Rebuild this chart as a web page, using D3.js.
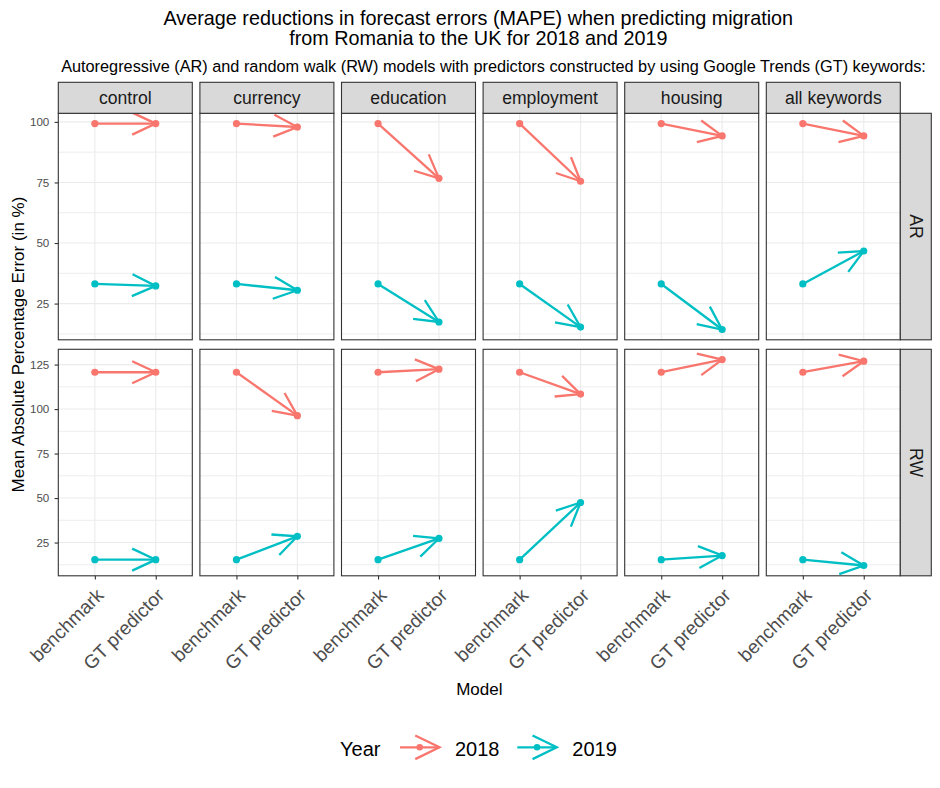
<!DOCTYPE html>
<html>
<head>
<meta charset="utf-8">
<script src="https://cdn.jsdelivr.net/npm/d3@7"></script>
<style>
  body { margin: 0; background: #fff; }
  text { font-family: "Liberation Sans", Arial, sans-serif; }
</style>
</head>
<body>
<div id="chart"></div>
<script>
// data
const keywords = ["control", "currency", "education", "employment", "housing", "all keywords"];
const models = ["AR", "RW"];
const years = ["2018", "2019"];
const xLabels = ["benchmark", "GT predictor"];

// benchmark MAPE (same in every panel of a row): [2018, 2019]
const benchmark_AR = [99.3, 33.1];
const benchmark_RW = [120.7, 15.4];

// GT predictor MAPE, one value per keyword
const gt_AR_2018 = [99.3, 97.9, 76.7, 75.5, 94.2, 94.2];
const gt_AR_2019 = [32.3, 30.5, 17.4, 15.3, 14.3, 46.7];
const gt_RW_2018 = [120.7, 96.3, 122.4, 108.4, 127.8, 126.9];
const gt_RW_2019 = [15.4, 28.5, 27.3, 47.5, 17.7, 12.1];

const yTicks_AR = [25, 50, 75, 100];
const yTicks_RW = [25, 50, 75, 100, 125];

const colors = { "2018": "#F8766D", "2019": "#00BFC4" };

// build rows
const data = [];
models.forEach(m => {
    const bench = m === "AR" ? benchmark_AR : benchmark_RW;
    const gt = m === "AR" ? [gt_AR_2018, gt_AR_2019] : [gt_RW_2018, gt_RW_2019];
    keywords.forEach((k, i) => {
        years.forEach((yr, j) => {
            data.push({ model: m, keyword: k, year: yr, benchmark: bench[j], gt: gt[j][i] });
        });
    });
});

const width = 940, height = 788;
const panelLeft = 58.3, panelW = 134, panelStep = 141.6;
const rowTop = { AR: 113.3, RW: 349.3 };
const panelH = 226.5;
const stripH = 31;

const svg = d3.select("#chart")
    .append("svg")
    .attr("width", width)
    .attr("height", height);

svg.append("rect").attr("width", width).attr("height", height).attr("fill", "#fff");

// x scale shared by every panel (discrete, ggplot-like expansion)
const x = d3.scalePoint()
    .domain(xLabels)
    .range([0, panelW])
    .padding(0.6);

function expand(vals) {
    const [a, b] = d3.extent(vals);
    const e = (b - a) * 0.05;
    return [a - e, b + e];
}

// y scale per row (free y)
const yScales = {};
models.forEach(m => {
    const rows = data.filter(d => d.model === m);
    yScales[m] = d3.scaleLinear()
        .domain(expand(rows.flatMap(d => [d.benchmark, d.gt])))
        .range([panelH, 0]);
});
const yTicks = { AR: yTicks_AR, RW: yTicks_RW };

function arrowHead(x1, y1, x2, y2, L = 26, deg = 25) {
    const a = Math.atan2(y2 - y1, x2 - x1);
    const t = deg * Math.PI / 180;
    return "M" + (x2 - L * Math.cos(a - t)) + "," + (y2 - L * Math.sin(a - t)) +
        "L" + x2 + "," + y2 +
        "L" + (x2 - L * Math.cos(a + t)) + "," + (y2 - L * Math.sin(a + t));
}

// titles
svg.append("text")
    .attr("x", 478.3).attr("y", 25)
    .attr("text-anchor", "middle")
    .style("font-size", "19.8px")
    .text("Average reductions in forecast errors (MAPE) when predicting migration");
svg.append("text")
    .attr("x", 478.3).attr("y", 45)
    .attr("text-anchor", "middle")
    .style("font-size", "19.8px")
    .text("from Romania to the UK for 2018 and 2019");
svg.append("text")
    .attr("x", 493.5).attr("y", 71.5)
    .attr("text-anchor", "middle")
    .style("font-size", "16.3px")
    .text("Autoregressive (AR) and random walk (RW) models with predictors constructed by using Google Trends (GT) keywords:");

// panels
models.forEach((m, r) => {
    const y = yScales[m];
    const [d0, d1] = y.domain();
    const major = yTicks[m];
    const minor = [];
    for (let v = major[0] - 12.5; v <= d1; v += 25) if (v >= d0) minor.push(v);

    keywords.forEach((k, c) => {
        const g = svg.append("g")
            .attr("transform", "translate(" + (panelLeft + c * panelStep) + "," + rowTop[m] + ")");

        // grid
        g.selectAll(".minor").data(minor).enter().append("line")
            .attr("x1", 0).attr("x2", panelW)
            .attr("y1", d => y(d)).attr("y2", d => y(d))
            .attr("stroke", "#EBEBEB").attr("stroke-width", 0.9);
        g.selectAll(".major").data(major).enter().append("line")
            .attr("x1", 0).attr("x2", panelW)
            .attr("y1", d => y(d)).attr("y2", d => y(d))
            .attr("stroke", "#EBEBEB").attr("stroke-width", 1.1);
        g.selectAll(".vmajor").data(xLabels).enter().append("line")
            .attr("x1", d => x(d)).attr("x2", d => x(d))
            .attr("y1", 0).attr("y2", panelH)
            .attr("stroke", "#EBEBEB").attr("stroke-width", 1.1);

        const rows = data.filter(d => d.model === m && d.keyword === k);

        // arrows
        rows.forEach(d => {
            const x1 = x("benchmark"), y1 = y(d.benchmark);
            const x2 = x("GT predictor"), y2 = y(d.gt);
            g.append("line")
                .attr("x1", x1).attr("y1", y1).attr("x2", x2).attr("y2", y2)
                .attr("stroke", colors[d.year]).attr("stroke-width", 2.3);
            g.append("path")
                .attr("d", arrowHead(x1, y1, x2, y2))
                .attr("fill", "none")
                .attr("stroke", colors[d.year]).attr("stroke-width", 2.3)
                .attr("stroke-linejoin", "miter");
        });

        // points
        rows.forEach(d => {
            g.append("circle").attr("cx", x("benchmark")).attr("cy", y(d.benchmark))
                .attr("r", 3.6).attr("fill", colors[d.year]);
            g.append("circle").attr("cx", x("GT predictor")).attr("cy", y(d.gt))
                .attr("r", 3.6).attr("fill", colors[d.year]);
        });

        // panel border
        g.append("rect")
            .attr("width", panelW).attr("height", panelH)
            .attr("fill", "none").attr("stroke", "#333333").attr("stroke-width", 1.1);

        // top strip
        if (r === 0) {
            g.append("rect")
                .attr("y", -stripH).attr("width", panelW).attr("height", stripH)
                .attr("fill", "#D9D9D9").attr("stroke", "#333333").attr("stroke-width", 1.1);
            g.append("text")
                .attr("x", panelW / 2).attr("y", -stripH / 2)
                .attr("dy", "0.35em")
                .attr("text-anchor", "middle")
                .attr("fill", "#1A1A1A")
                .style("font-size", "17.6px")
                .text(k);
        }

        // right strip
        if (c === keywords.length - 1) {
            g.append("rect")
                .attr("x", panelW).attr("width", stripH).attr("height", panelH)
                .attr("fill", "#D9D9D9").attr("stroke", "#333333").attr("stroke-width", 1.1);
            g.append("text")
                .attr("transform", "translate(" + (panelW + stripH / 2) + "," + (panelH / 2) + ") rotate(90)")
                .attr("dy", "0.35em")
                .attr("text-anchor", "middle")
                .attr("fill", "#1A1A1A")
                .style("font-size", "17.6px")
                .text(m);
        }

        // y axis
        if (c === 0) {
            const ax = g.append("g").call(d3.axisLeft(y).tickValues(major).tickSize(3.7).tickPadding(5.3));
            ax.select(".domain").remove();
            ax.selectAll("line").attr("stroke", "#333333").attr("stroke-width", 1.1);
            ax.selectAll("text")
                .attr("fill", "#4D4D4D")
                .style("font-size", "11.6px")
                .style("font-family", "'Liberation Sans', Arial, sans-serif");
        }

        // x axis
        if (r === models.length - 1) {
            const ax = g.append("g")
                .attr("transform", "translate(0," + panelH + ")")
                .call(d3.axisBottom(x).tickSize(3.7));
            ax.select(".domain").remove();
            ax.selectAll("line").attr("stroke", "#333333").attr("stroke-width", 1.1);
            ax.selectAll("text")
                .attr("x", 0).attr("y", 0).attr("dy", 0)
                .attr("text-anchor", "end")
                .attr("transform", "translate(9.3,20.7) rotate(-45)")
                .attr("fill", "#4D4D4D")
                .style("font-size", "19px")
                .style("font-family", "'Liberation Sans', Arial, sans-serif");
        }
    });
});

// axis titles
const panelsMid = panelLeft + (5 * panelStep + panelW) / 2;
svg.append("text")
    .attr("x", panelsMid).attr("y", 695)
    .attr("text-anchor", "middle")
    .style("font-size", "17px")
    .text("Model");
svg.append("text")
    .attr("transform", "translate(24," + (rowTop.AR + (rowTop.RW + panelH - rowTop.AR) / 2) + ") rotate(-90)")
    .attr("text-anchor", "middle")
    .style("font-size", "17px")
    .text("Mean Absolute Percentage Error (in %)");

// legend
const legend = svg.append("g");
const legendY = 747.3;
legend.append("text")
    .attr("x", 340).attr("y", 755.5)
    .style("font-size", "20px")
    .text("Year");
const keyX = [400, 517.3];
years.forEach((yr, i) => {
    const x1 = keyX[i], x2 = keyX[i] + 39.5;
    legend.append("line")
        .attr("x1", x1).attr("x2", x2).attr("y1", legendY).attr("y2", legendY)
        .attr("stroke", colors[yr]).attr("stroke-width", 2.3);
    legend.append("path")
        .attr("d", arrowHead(x1, legendY, x2, legendY, 27, 26))
        .attr("fill", "none").attr("stroke", colors[yr]).attr("stroke-width", 2.3);
    legend.append("circle")
        .attr("cx", (x1 + x2) / 2).attr("cy", legendY).attr("r", 3.3)
        .attr("fill", colors[yr]);
    legend.append("text")
        .attr("x", x2 + 15.5).attr("y", 755.5)
        .style("font-size", "20px")
        .text(yr);
});
</script>
</body>
</html>
